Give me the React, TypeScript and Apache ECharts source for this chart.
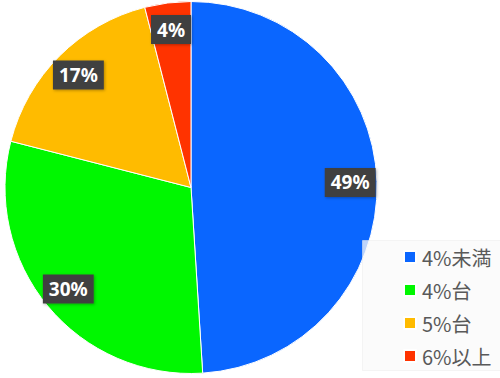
import React, { useEffect, useRef } from "react";
import * as echarts from "echarts";

const categories = ["4%未満", "4%台", "5%台", "6%以上"];
const values = [49, 30, 17, 4];
const colors = ["#0a66ff", "#00f700", "#ffbb00", "#ff3300"];

export default function App() {
  const ref = useRef<HTMLDivElement>(null);
  useEffect(() => {
    document.body.style.margin = "0";
    const chart = echarts.init(ref.current!, null, { renderer: "svg" });
    const data = categories.map((name, i) => ({ name, value: values[i] }));
    const center = [191, 187.5];
    const R = 186;
    chart.setOption({
      animation: false,
      color: colors,
      graphic: [
        {
          type: "rect",
          left: 362,
          top: 240,
          z: 100,
          shape: { width: 150, height: 130 },
          style: { fill: "rgba(250,250,250,0.75)", stroke: "rgba(235,235,235,0.5)", lineWidth: 1 },
        },
      ],
      legend: {
        orient: "vertical",
        left: 403,
        top: 246,
        padding: 0,
        z: 110,
        data: categories,
        itemWidth: 12,
        itemHeight: 12,
        itemGap: 11,
        icon: "rect",
        textStyle: {
          fontSize: 20,
          lineHeight: 22,
          color: "#595959",
          fontFamily: "Noto Sans CJK JP",
          padding: [0, 0, 0, 1],
        },
      },
      series: [
        {
          type: "pie",
          center,
          radius: [0, R],
          startAngle: 90,
          clockwise: true,
          silent: true,
          data,
          itemStyle: { borderColor: "#ffffff", borderWidth: 1 },
          label: { show: false },
          labelLine: { show: false },
        },
        {
          type: "pie",
          center,
          radius: [R * 0.68, R],
          startAngle: 90,
          clockwise: true,
          silent: true,
          z: 5,
          data,
          itemStyle: { color: "rgba(0,0,0,0)" },
          labelLine: { show: false },
          label: {
            show: true,
            position: "inside",
            formatter: (p: any) => p.value + "%",
            color: "#ffffff",
            fontWeight: "bold",
            fontSize: 19,
            fontFamily: "Noto Sans",
            backgroundColor: "#404040",
            padding: [6, 6, 4, 6],
            shadowColor: "rgba(0,0,0,0.3)",
            shadowBlur: 3,
            shadowOffsetX: 1,
            shadowOffsetY: 1,
          },
        },
      ],
    });
    return () => chart.dispose();
  }, []);
  return <div ref={ref} style={{ width: 500, height: 378 }} />;
}
